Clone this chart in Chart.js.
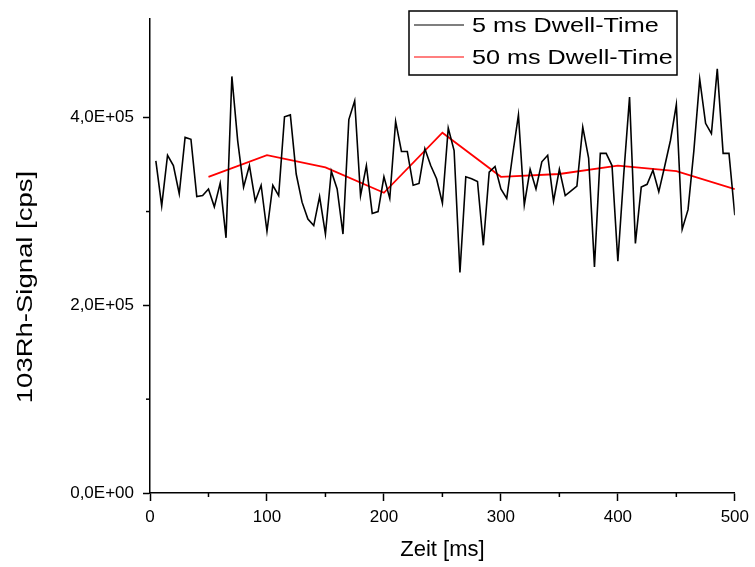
<!DOCTYPE html>
<html>
<head>
<meta charset="utf-8">
<script src="https://cdn.jsdelivr.net/npm/chart.js@4.4.1/dist/chart.umd.min.js"></script>
<style>
  html, body { margin: 0; padding: 0; background: #fff; }
  #wrap { width: 755px; height: 567px; }
</style>
</head>
<body>
<div id="wrap"><canvas id="myChart"></canvas></div>
<script>
/* 103Rh-Signal, 5 ms und 50 ms Dwell-Time */
const time5 = [
  5, 10, 15, 20, 25, 30, 35, 40, 45, 50, 55, 60, 65, 70, 75, 80, 85, 90, 95, 100,
  105, 110, 115, 120, 125, 130, 135, 140, 145, 150, 155, 160, 165, 170, 175, 180, 185, 190, 195, 200,
  205, 210, 215, 220, 225, 230, 235, 240, 245, 250, 255, 260, 265, 270, 275, 280, 285, 290, 295, 300,
  305, 310, 315, 320, 325, 330, 335, 340, 345, 350, 355, 360, 365, 370, 375, 380, 385, 390, 395, 400,
  405, 410, 415, 420, 425, 430, 435, 440, 445, 450, 455, 460, 465, 470, 475, 480, 485, 490, 495, 500
];
const signal5 = [
  354000, 306000, 360000, 349000, 319000, 379000, 377000, 316000, 317000, 324000,
  305000, 330000, 272000, 444000, 375000, 326000, 349000, 311000, 328000, 279000,
  328000, 317000, 401000, 403000, 340000, 310000, 292000, 285000, 316000, 276000,
  343000, 324000, 276000, 398000, 418000, 317000, 349000, 298000, 300000, 337000,
  314000, 396000, 364000, 364000, 328000, 330000, 367000, 349000, 335000, 309000,
  389000, 365000, 235000, 337000, 335000, 332000, 264000, 342000, 348000, 324000,
  314000, 360000, 403000, 307000, 345000, 324000, 353000, 360000, 311000, 345000,
  317000, 322000, 327000, 390000, 357000, 241000, 362000, 362000, 349000, 247000,
  339000, 422000, 266000, 326000, 329000, 344000, 321000, 348000, 376000, 414000,
  281000, 302000, 365000, 441000, 394000, 383000, 452000, 362000, 362000, 296000
];
const time50 = [50, 100, 150, 200, 250, 300, 350, 400, 450, 500];
const signal50 = [337000, 360000, 347000, 320000, 384000, 337000, 340000, 349000, 343000, 324000];

const seriesLabels = ["5 ms Dwell-Time", "50 ms Dwell-Time"];
const seriesColors = ["#000000", "#ff0000"];
const yTicks = [0, 200000, 400000];
const yTickLabels = ["0,0E+00", "2,0E+05", "4,0E+05"];
const xMinorTicks = [50, 150, 250, 350, 450];
const yMinorTicks = [100000, 300000];

const FONT = "'Liberation Sans', Arial, sans-serif";

const data = {
  datasets: [
    {
      label: seriesLabels[0],
      data: time5.map((t, i) => ({ x: t, y: signal5[i] })),
      borderColor: seriesColors[0],
      borderWidth: 1.6,
      pointRadius: 0,
      tension: 0,
    },
    {
      label: seriesLabels[1],
      data: time50.map((t, i) => ({ x: t, y: signal50[i] })),
      borderColor: seriesColors[1],
      borderWidth: 1.8,
      pointRadius: 0,
      tension: 0,
    },
  ],
};

/* kleine Ticks, Y-Titel und Legende mit Rahmen */
const extras = {
  id: "extras",
  afterDraw(chart) {
    const ctx = chart.ctx;
    const xs = chart.scales.x;
    const ys = chart.scales.y;
    const area = chart.chartArea;
    ctx.save();
    ctx.strokeStyle = "#000";
    ctx.lineWidth = 1.5;
    xMinorTicks.forEach((v) => {
      const px = xs.getPixelForValue(v);
      ctx.beginPath();
      ctx.moveTo(px, area.bottom);
      ctx.lineTo(px, area.bottom + 4);
      ctx.stroke();
    });
    yMinorTicks.forEach((v) => {
      const py = ys.getPixelForValue(v);
      ctx.beginPath();
      ctx.moveTo(area.left, py);
      ctx.lineTo(area.left - 4, py);
      ctx.stroke();
    });

    // y axis title
    ctx.fillStyle = "#000";
    ctx.font = "22px " + FONT;
    ctx.textAlign = "center";
    ctx.textBaseline = "middle";
    ctx.translate(26, 287);
    ctx.rotate(-Math.PI / 2);
    ctx.scale(1.25, 1);
    ctx.fillText("103Rh-Signal [cps]", 0, 0);
    ctx.restore();

    // legend
    ctx.save();
    const bx = 409, by = 11, bw = 268, bh = 64;
    ctx.strokeStyle = "#000";
    ctx.lineWidth = 1.5;
    ctx.strokeRect(bx, by, bw, bh);
    ctx.font = "21px " + FONT;
    ctx.textBaseline = "middle";
    ctx.textAlign = "left";
    chart.data.datasets.forEach((ds, i) => {
      const ly = by + 14 + i * 32;
      ctx.strokeStyle = ds.borderColor;
      ctx.lineWidth = 1.2;
      ctx.beginPath();
      ctx.moveTo(bx + 5, ly);
      ctx.lineTo(bx + 55, ly);
      ctx.stroke();
      ctx.fillStyle = "#000";
      ctx.save();
      ctx.translate(bx + 63, ly + 1);
      ctx.scale(1.2, 1);
      ctx.fillText(ds.label, 0, 0);
      ctx.restore();
    });
    ctx.restore();
  },
};

const config = {
  type: "line",
  data: data,
  options: {
    responsive: true,
    maintainAspectRatio: false,
    animation: false,
    layout: { padding: { top: 18, right: 17, left: 0, bottom: 0 } },
    plugins: {
      legend: { display: false },
      tooltip: { enabled: false },
    },
    scales: {
      x: {
        type: "linear",
        min: 0,
        max: 500,
        afterFit: (s) => { s.height = 74; },
        ticks: {
          stepSize: 100,
          color: "#000",
          font: { family: FONT, size: 17 },
          padding: 6,
          maxRotation: 0,
        },
        grid: {
          drawOnChartArea: false,
          tickLength: 8,
          tickWidth: 1.5,
          tickColor: "#000",
        },
        border: { color: "#000", width: 1.5 },
        title: {
          display: true,
          text: "Zeit [ms]",
          color: "#000",
          font: { family: FONT, size: 22 },
          padding: { top: 2 },
        },
      },
      y: {
        min: 0,
        max: 505000,
        afterFit: (s) => { s.width = 150; },
        afterBuildTicks: (s) => { s.ticks = yTicks.map((v) => ({ value: v })); },
        ticks: {
          color: "#000",
          font: { family: FONT, size: 17 },
          padding: 9,
          callback: (value, i) => yTickLabels[i],
        },
        grid: {
          drawOnChartArea: false,
          tickLength: 7,
          tickWidth: 1.5,
          tickColor: "#000",
        },
        border: { color: "#000", width: 1.5 },
      },
    },
  },
  plugins: [extras],
};

var myChart = new Chart(document.getElementById("myChart"), config);
</script>
</body>
</html>
